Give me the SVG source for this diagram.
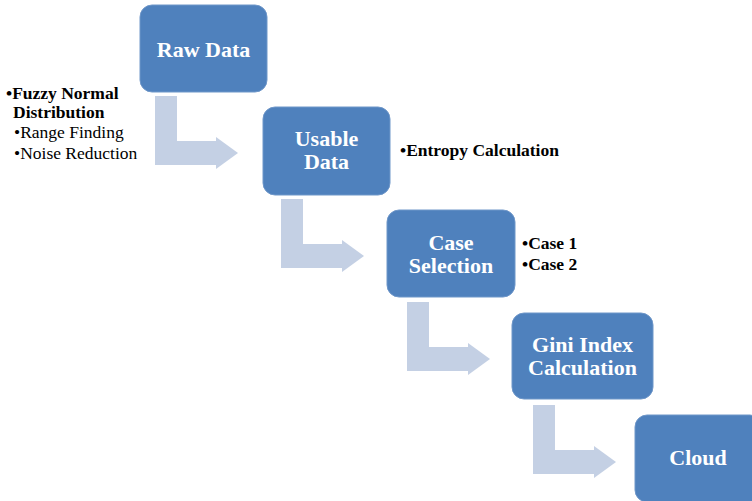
<svg xmlns="http://www.w3.org/2000/svg" width="752" height="501" viewBox="0 0 752 501">
<style>
.box{fill:#4f81bd;stroke:#6f97c9;stroke-width:1}
.arr{fill:#c4d0e4}
</style>
<rect width="752" height="501" fill="#ffffff"/>
<g id="connectors">
<path class="arr" d="M155,96 h22 v45 h39 v-4 l22,16 l-22,16 v-4 h-61 Z"/>
<path class="arr" d="M281,199 h22 v45 h39 v-4 l22,16 l-22,16 v-4 h-61 Z"/>
<path class="arr" d="M407,302 h22 v45 h39 v-4 l22,16 l-22,16 v-4 h-61 Z"/>
<path class="arr" d="M533,405 h22 v45 h39 v-4 l22,16 l-22,16 v-4 h-61 Z"/>
</g>
<g id="raw-data">
<rect class="box" x="140" y="5" width="127" height="87" rx="12"/>
<text x="203.5" y="57" font-family="Liberation Serif" font-weight="bold" font-size="22" fill="#ffffff" text-anchor="middle">Raw Data</text>
</g>
<g id="usable-data">
<rect class="box" x="263" y="107" width="127" height="88" rx="12"/>
<text x="326.5" y="146" font-family="Liberation Serif" font-weight="bold" font-size="22" fill="#ffffff" text-anchor="middle">Usable</text>
<text x="326.5" y="169" font-family="Liberation Serif" font-weight="bold" font-size="22" fill="#ffffff" text-anchor="middle">Data</text>
</g>
<g id="case-selection">
<rect class="box" x="387" y="210" width="128" height="87" rx="12"/>
<text x="451" y="250" font-family="Liberation Serif" font-weight="bold" font-size="22" fill="#ffffff" text-anchor="middle">Case</text>
<text x="451" y="273" font-family="Liberation Serif" font-weight="bold" font-size="22" fill="#ffffff" text-anchor="middle">Selection</text>
</g>
<g id="gini-index">
<rect class="box" x="512" y="313" width="141" height="86" rx="12"/>
<text x="582.5" y="352" font-family="Liberation Serif" font-weight="bold" font-size="22" fill="#ffffff" text-anchor="middle">Gini Index</text>
<text x="582.5" y="375" font-family="Liberation Serif" font-weight="bold" font-size="22" fill="#ffffff" text-anchor="middle">Calculation</text>
</g>
<g id="cloud">
<rect class="box" x="635" y="415" width="127" height="87" rx="12"/>
<text x="698" y="465" font-family="Liberation Serif" font-weight="bold" font-size="22" fill="#ffffff" text-anchor="middle">Cloud</text>
</g>
<g id="notes">
<text x="6" y="99" font-family="Liberation Serif" font-weight="bold" font-size="17.5">•Fuzzy Normal</text>
<text x="13" y="118" font-family="Liberation Serif" font-weight="bold" font-size="17.5">Distribution</text>
<text x="14" y="138" font-family="Liberation Serif" font-size="17.5">•Range Finding</text>
<text x="14" y="159" font-family="Liberation Serif" font-size="17.5">•Noise Reduction</text>
<text x="400" y="156" font-family="Liberation Serif" font-weight="bold" font-size="17.5">•Entropy Calculation</text>
<text x="522" y="249" font-family="Liberation Serif" font-weight="bold" font-size="17.5">•Case 1</text>
<text x="522" y="270" font-family="Liberation Serif" font-weight="bold" font-size="17.5">•Case 2</text>
</g>
</svg>
